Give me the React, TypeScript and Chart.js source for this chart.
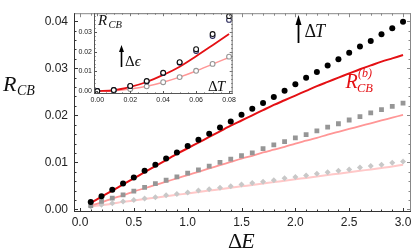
import React, { useEffect, useRef } from "react";
import { Chart, registerables } from "chart.js";
Chart.register(...registerables);

// ---------- main chart data ----------
const dE = [0.1, 0.2, 0.3, 0.4, 0.5, 0.6, 0.7, 0.8, 0.9, 1.0, 1.1, 1.2, 1.3, 1.4, 1.5,
  1.6, 1.7, 1.8, 1.9, 2.0, 2.1, 2.2, 2.3, 2.4, 2.5, 2.6, 2.7, 2.8, 2.9, 3.0];
const blackDots = [0.00155, 0.0028, 0.0042, 0.0055, 0.0068, 0.0082, 0.0095, 0.0108, 0.0121, 0.0135,
  0.0148, 0.0161, 0.0174, 0.0187, 0.0201, 0.0214, 0.0226, 0.0239, 0.0252, 0.0266,
  0.0280, 0.0292, 0.0306, 0.0319, 0.0333, 0.0346, 0.0358, 0.0372, 0.0385, 0.0399];
const graySquares = [0.0008, 0.0017, 0.0024, 0.0031, 0.0039, 0.0047, 0.0055, 0.0062, 0.0069, 0.0077,
  0.0084, 0.0092, 0.0100, 0.0107, 0.0114, 0.0120, 0.0129, 0.0137, 0.0144, 0.0152,
  0.0159, 0.0167, 0.0175, 0.0182, 0.0190, 0.0197, 0.0205, 0.0212, 0.0219, 0.0226];
const lightDiamonds = [0.0006, 0.0010, 0.0013, 0.0017, 0.0020, 0.0023, 0.0026, 0.0030, 0.0033, 0.0036,
  0.0040, 0.0043, 0.0046, 0.0049, 0.0053, 0.0056, 0.0059, 0.0062, 0.0066, 0.0069,
  0.0072, 0.0076, 0.0079, 0.0082, 0.0085, 0.0089, 0.0092, 0.0095, 0.0099, 0.0102];
const redLine = [0.0014, 0.0027, 0.0040, 0.0053, 0.0066, 0.0079, 0.0092, 0.0105, 0.0118, 0.0130,
  0.0142, 0.0154, 0.0166, 0.0178, 0.0189, 0.0200, 0.0211, 0.0222, 0.0232, 0.0242,
  0.0252, 0.0262, 0.0271, 0.0280, 0.0289, 0.0298, 0.0306, 0.0314, 0.0321, 0.0328];
const pinkLine = [0.0008, 0.0015, 0.0023, 0.0030, 0.0038, 0.0045, 0.0052, 0.0059, 0.0066, 0.0073,
  0.0080, 0.0087, 0.0094, 0.0101, 0.0108, 0.0114, 0.0121, 0.0127, 0.0133, 0.0140,
  0.0146, 0.0152, 0.0159, 0.0165, 0.0171, 0.0177, 0.0183, 0.0189, 0.0195, 0.0201];
const lightPinkLine = [0.0006, 0.0009, 0.0012, 0.0016, 0.0019, 0.0022, 0.0025, 0.0028, 0.0031, 0.0034,
  0.0037, 0.0040, 0.0043, 0.0046, 0.0049, 0.0052, 0.0055, 0.0058, 0.0061, 0.0064,
  0.0067, 0.0070, 0.0073, 0.0076, 0.0079, 0.0082, 0.0085, 0.0088, 0.0091, 0.0095];
const mainXTicks = [0, 0.5, 1.0, 1.5, 2.0, 2.5, 3.0];
const mainYTicks = [0, 0.01, 0.02, 0.03, 0.04];
const mainXMinor = [0.1, 0.2, 0.3, 0.4, 0.6, 0.7, 0.8, 0.9, 1.1, 1.2, 1.3, 1.4, 1.6, 1.7, 1.8, 1.9,
  2.1, 2.2, 2.3, 2.4, 2.6, 2.7, 2.8, 2.9];
const mainYMinor = [0.002, 0.004, 0.006, 0.008, 0.012, 0.014, 0.016, 0.018, 0.022, 0.024, 0.026, 0.028,
  0.032, 0.034, 0.036, 0.038];

// ---------- inset data ----------
const dT = [0, 0.01, 0.02, 0.03, 0.04, 0.05, 0.06, 0.07, 0.08];
const insetDarkA = [0, 0.0005, 0.0026, 0.0051, 0.0093, 0.0147, 0.0213, 0.0290, 0.0381];
const insetDarkB = [0, 0.0005, 0.0025, 0.0049, 0.0091, 0.0144, 0.0204, 0.0280, 0.0362];
const insetLight = [0, 0.0002, 0.0010, 0.0024, 0.0045, 0.0071, 0.0103, 0.0138, 0.0175];
const insetRed = [0, 0.0004, 0.0021, 0.0046, 0.0082, 0.0124, 0.0177, 0.0233, 0.0290];
const insetPink = [0, 0.0002, 0.0010, 0.0024, 0.0045, 0.0071, 0.0102, 0.0137, 0.0171];
const insetXTicks = [0, 0.02, 0.04, 0.06, 0.08];
const insetYTicks = [0, 0.01, 0.02, 0.03];
const insetXMinor = [0.005, 0.01, 0.015, 0.025, 0.03, 0.035, 0.045, 0.05, 0.055, 0.065, 0.07, 0.075];
const insetYMinor = [0.002, 0.004, 0.006, 0.008, 0.012, 0.014, 0.016, 0.018, 0.022, 0.024, 0.026, 0.028,
  0.032, 0.034, 0.036, 0.038];

const RED = "rgb(228,16,20)";
const PINK = "rgb(255,150,150)";
const LIGHTPINK = "rgb(255,200,200)";
const SANS = "'Liberation Sans', Arial, sans-serif";
const SERIF = "'Liberation Serif', 'Times New Roman', serif";

const pts = (xs: number[], ys: number[]) => xs.map((x, i) => ({ x, y: ys[i] }));

type FrameCfg = {
  xMajor: number[]; xMinor: number[]; yMajor: number[]; yMinor: number[];
  majorLen: number; minorLen: number; dark: string; light: string; lw: number;
};

function framePlugin(id: string, cfg: FrameCfg, extra?: (ctx: CanvasRenderingContext2D, chart: any) => void) {
  return {
    id,
    beforeDatasetsDraw(chart: any) {
      const { ctx, chartArea } = chart;
      ctx.save();
      ctx.fillStyle = "#ffffff";
      ctx.fillRect(chartArea.left, chartArea.top, chartArea.right - chartArea.left, chartArea.bottom - chartArea.top);
      ctx.restore();
    },
    afterDraw(chart: any) {
      const { ctx, chartArea } = chart;
      const { left, right, top, bottom } = chartArea;
      const xs = chart.scales.x;
      const ys = chart.scales.y;
      ctx.save();
      ctx.lineWidth = cfg.lw;
      // top & right (lighter)
      ctx.strokeStyle = cfg.light;
      ctx.beginPath();
      ctx.moveTo(left, top + 0.5); ctx.lineTo(right, top + 0.5);
      ctx.moveTo(right - 0.5, top); ctx.lineTo(right - 0.5, bottom);
      ctx.stroke();
      const tickX = (v: number, len: number) => {
        const p = Math.round(xs.getPixelForValue(v)) + 0.5;
        ctx.moveTo(p, top); ctx.lineTo(p, top + len);
      };
      const tickY = (v: number, len: number) => {
        const p = Math.round(ys.getPixelForValue(v)) + 0.5;
        ctx.moveTo(right, p); ctx.lineTo(right - len, p);
      };
      ctx.beginPath();
      cfg.xMajor.forEach((v) => tickX(v, cfg.majorLen));
      cfg.xMinor.forEach((v) => tickX(v, cfg.minorLen));
      cfg.yMajor.forEach((v) => tickY(v, cfg.majorLen));
      cfg.yMinor.forEach((v) => tickY(v, cfg.minorLen));
      ctx.stroke();
      // bottom & left (darker)
      ctx.strokeStyle = cfg.dark;
      ctx.beginPath();
      ctx.moveTo(left, bottom - 0.5); ctx.lineTo(right, bottom - 0.5);
      ctx.moveTo(left + 0.5, top); ctx.lineTo(left + 0.5, bottom);
      ctx.stroke();
      ctx.beginPath();
      const bx = (v: number, len: number) => {
        const p = Math.round(xs.getPixelForValue(v)) + 0.5;
        ctx.moveTo(p, bottom); ctx.lineTo(p, bottom - len);
      };
      const ly = (v: number, len: number) => {
        const p = Math.round(ys.getPixelForValue(v)) + 0.5;
        ctx.moveTo(left, p); ctx.lineTo(left + len, p);
      };
      cfg.xMajor.forEach((v) => bx(v, cfg.majorLen));
      cfg.xMinor.forEach((v) => bx(v, cfg.minorLen));
      cfg.yMajor.forEach((v) => ly(v, cfg.majorLen));
      cfg.yMinor.forEach((v) => ly(v, cfg.minorLen));
      ctx.stroke();
      ctx.restore();
      if (extra) {
        ctx.save();
        extra(ctx, chart);
        ctx.restore();
      }
    },
  };
}

function txt(ctx: CanvasRenderingContext2D, s: string, x: number, y: number, font: string, color = "#111") {
  ctx.font = font;
  ctx.fillStyle = color;
  ctx.textBaseline = "alphabetic";
  ctx.textAlign = "left";
  ctx.fillText(s, x, y);
  return x + ctx.measureText(s).width;
}

function arrow(ctx: CanvasRenderingContext2D, x: number, yTip: number, yEnd: number, headH: number, headW: number, lw: number) {
  ctx.strokeStyle = "#000";
  ctx.fillStyle = "#000";
  ctx.lineWidth = lw;
  ctx.beginPath();
  ctx.moveTo(x, yEnd);
  ctx.lineTo(x, yTip + headH - 1);
  ctx.stroke();
  ctx.beginPath();
  ctx.moveTo(x, yTip);
  ctx.lineTo(x - headW, yTip + headH);
  ctx.lineTo(x + headW, yTip + headH);
  ctx.closePath();
  ctx.fill();
}

function fixedTicks(values: number[]) {
  return (scale: any) => {
    scale.ticks = values.map((v) => ({ value: v }));
  };
}

export default function App() {
  const mainRef = useRef<HTMLCanvasElement>(null);
  const insetRef = useRef<HTMLCanvasElement>(null);

  useEffect(() => {
    const mainPlugin = framePlugin(
      "mainFrame",
      { xMajor: mainXTicks, xMinor: mainXMinor, yMajor: mainYTicks, yMinor: mainYMinor, majorLen: 4, minorLen: 2.5, dark: "#333", light: "#888", lw: 1 },
      (ctx) => {
        // y axis title R_CB
        txt(ctx, "R", 3, 90.5, `italic 22px ${SERIF}`);
        txt(ctx, "CB", 17, 94.5, `italic 14px ${SERIF}`);
        // x axis title ΔE
        const e = txt(ctx, "Δ", 228, 248, `22px ${SERIF}`);
        txt(ctx, "E", e - 1, 248, `italic 22px ${SERIF}`);
        // ΔT arrow
        arrow(ctx, 298.5, 15, 43, 10, 3, 1.8);
        const t = txt(ctx, "Δ", 304.5, 37, `18px ${SERIF}`);
        txt(ctx, "T", t - 1, 37, `italic 18px ${SERIF}`);
        // R_CB^(b) label
        txt(ctx, "R", 345.5, 88, `italic 20px ${SERIF}`, RED);
        txt(ctx, "CB", 357, 91.5, `italic 12.5px ${SERIF}`, RED);
        txt(ctx, "(b)", 358, 77, `italic 12px ${SERIF}`, RED);
      }
    );

    const mainChart = new Chart(mainRef.current!, {
      type: "scatter",
      data: {
        datasets: [
          { label: "black", data: pts(dE, blackDots), pointStyle: "circle", pointRadius: 3, backgroundColor: "#000", borderColor: "#000", borderWidth: 0, showLine: false },
          { label: "squares", data: pts(dE, graySquares), pointStyle: "rect", pointRadius: 3.4, backgroundColor: "rgb(150,150,150)", borderColor: "rgb(150,150,150)", borderWidth: 0, showLine: false },
          { label: "diamonds", data: pts(dE, lightDiamonds), pointStyle: "rectRot", pointRadius: 3, backgroundColor: "rgb(200,200,200)", borderColor: "rgb(200,200,200)", borderWidth: 0, showLine: false },
          { label: "red", data: pts(dE, redLine), showLine: true, pointRadius: 0, borderColor: RED, borderWidth: 2, tension: 0.3 },
          { label: "pink", data: pts(dE, pinkLine), showLine: true, pointRadius: 0, borderColor: PINK, borderWidth: 1.8, tension: 0.3 },
          { label: "lightpink", data: pts(dE, lightPinkLine), showLine: true, pointRadius: 0, borderColor: LIGHTPINK, borderWidth: 2, tension: 0.3 },
        ],
      },
      options: {
        animation: false,
        responsive: false,
        events: [],
        layout: { padding: { left: 0, right: 3, top: 5, bottom: 0 } },
        plugins: { legend: { display: false }, tooltip: { enabled: false } },
        scales: {
          x: {
            type: "linear", min: -0.0556, max: 3.074,
            afterBuildTicks: fixedTicks(mainXTicks),
            afterFit: (s: any) => { s.height = 40; },
            grid: { display: false, drawTicks: false },
            border: { display: false },
            ticks: { font: { family: SANS, size: 12 }, color: "#222", padding: 3, maxRotation: 0, callback: (v: any) => Number(v).toFixed(1) },
          },
          y: {
            type: "linear", min: -0.00055, max: 0.0417,
            afterBuildTicks: fixedTicks(mainYTicks),
            afterFit: (s: any) => { s.width = 74; },
            grid: { display: false, drawTicks: false },
            border: { display: false },
            ticks: { font: { family: SANS, size: 12 }, color: "#222", padding: 6, callback: (v: any) => Number(v).toFixed(2) },
          },
        },
      },
      plugins: [mainPlugin],
    } as any);

    const insetPlugin = framePlugin(
      "insetFrame",
      { xMajor: insetXTicks, xMinor: insetXMinor, yMajor: insetYTicks, yMinor: insetYMinor, majorLen: 3, minorLen: 1.5, dark: "#555", light: "#777", lw: 1 },
      (ctx) => {
        // inset coordinates: canvas left=78, top=7
        txt(ctx, "R", 98 - 78, 25 - 7, `italic 15px ${SERIF}`);
        txt(ctx, "CB", 108.5 - 78, 27.5 - 7, `italic 10.5px ${SERIF}`);
        arrow(ctx, 121.5 - 78, 45 - 7, 67 - 7, 7, 2.5, 1.6);
        const d = txt(ctx, "Δ", 125 - 78, 65.5 - 7, `15px ${SERIF}`);
        txt(ctx, "ϵ", d, 65.5 - 7, `italic 15px ${SERIF}`);
        const t = txt(ctx, "Δ", 208 - 78, 91 - 7, `15px ${SERIF}`);
        txt(ctx, "T", t - 1, 91 - 7, `italic 15px ${SERIF}`);
      }
    );

    const insetChart = new Chart(insetRef.current!, {
      type: "scatter",
      data: {
        datasets: [
          { label: "darkA", data: pts(dT, insetDarkA), pointStyle: "circle", pointRadius: 2.4, backgroundColor: "#fff", borderColor: "#111", borderWidth: 1.1, showLine: false },
          { label: "darkB", data: pts(dT, insetDarkB), pointStyle: "circle", pointRadius: 2.4, backgroundColor: "#fff", borderColor: "rgb(40,40,90)", borderWidth: 1.1, showLine: false },
          { label: "light", data: pts(dT, insetLight), pointStyle: "circle", pointRadius: 2.4, backgroundColor: "#fff", borderColor: "rgb(150,150,150)", borderWidth: 1.1, showLine: false },
          { label: "red", data: pts(dT, insetRed), showLine: true, pointRadius: 0, borderColor: RED, borderWidth: 1.8, cubicInterpolationMode: "monotone" },
          { label: "pink", data: pts(dT, insetPink), showLine: true, pointRadius: 0, borderColor: PINK, borderWidth: 1.5, cubicInterpolationMode: "monotone" },
        ],
      },
      options: {
        animation: false,
        responsive: false,
        events: [],
        layout: { padding: { left: 0, right: 3, top: 2, bottom: 0 } },
        plugins: { legend: { display: false }, tooltip: { enabled: false } },
        scales: {
          x: {
            type: "linear", min: -0.002, max: 0.0822,
            afterBuildTicks: fixedTicks(insetXTicks),
            afterFit: (s: any) => { s.height = 15; },
            grid: { display: false, drawTicks: false },
            border: { display: false },
            ticks: { font: { family: SANS, size: 7 }, color: "#222", padding: 2, maxRotation: 0, callback: (v: any) => Number(v).toFixed(2) },
          },
          y: {
            type: "linear", min: -0.0015, max: 0.0396,
            afterBuildTicks: fixedTicks(insetYTicks),
            afterFit: (s: any) => { s.width = 16; },
            grid: { display: false, drawTicks: false },
            border: { display: false },
            ticks: { font: { family: SANS, size: 7 }, color: "#222", padding: 2, callback: (v: any) => Number(v).toFixed(2) },
          },
        },
      },
      plugins: [insetPlugin],
    } as any);

    return () => {
      mainChart.destroy();
      insetChart.destroy();
    };
  }, []);

  return (
    <div style={{ position: "fixed", left: 0, top: 0, width: 415, height: 252, background: "#fff" }}>
      <canvas ref={mainRef} width={415} height={252} style={{ position: "absolute", left: 0, top: 0, width: 415, height: 252 }} />
      <canvas ref={insetRef} width={160} height={102} style={{ position: "absolute", left: 78, top: 7, width: 160, height: 102 }} />
    </div>
  );
}
